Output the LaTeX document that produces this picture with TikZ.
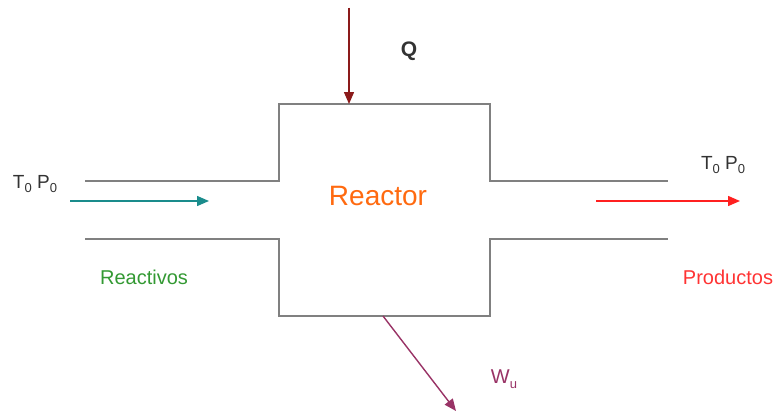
\documentclass[tikz,border=0pt]{standalone}
\usepackage{fontspec}
\setmainfont{Liberation Sans}
\usetikzlibrary{arrows.meta}
\definecolor{wallgray}{HTML}{808080}
\definecolor{qred}{HTML}{8B1A1A}
\definecolor{inteal}{HTML}{1A8C8C}
\definecolor{outred}{HTML}{FF2020}
\definecolor{wpurple}{HTML}{993366}
\definecolor{reacgreen}{HTML}{339933}
\definecolor{prodred}{HTML}{FF3333}
\definecolor{reacorange}{HTML}{FF6A10}
\definecolor{txtgray}{HTML}{333333}
\newcommand{\lowsub}[1]{\raisebox{-0.25em}{\fontsize{13}{14}\selectfont #1}}
\tikzset{
  wall/.style={draw=wallgray, line width=1.6pt},
  flow/.style={line width=1.4pt, -{Triangle[length=12pt,width=10pt]}},
  lbl/.style={inner sep=0pt, font=\fontsize{20}{24}\selectfont},
}
\begin{document}
\begin{tikzpicture}[x=1pt,y=-1pt]
\useasboundingbox (0,0) rectangle (775,412);
% reactor body with pipes
\draw[wall] (85,181) -- (279,181) -- (279,104) -- (490,104) -- (490,181) -- (668,181);
\draw[wall] (85,239) -- (279,239) -- (279,316) -- (490,316) -- (490,239) -- (668,239);
% labels
\node[lbl, text=reacorange, font=\fontsize{28}{32}\selectfont] (reactor) at (378,196) {Reactor};
\node[lbl, text=txtgray, font=\bfseries\fontsize{21}{24}\selectfont] (q) at (409,51) {Q};
\node[lbl, text=txtgray, font=\fontsize{19}{22}\selectfont] (tpin) at (35,184) {T\lowsub{0} P\lowsub{0}};
\node[lbl, text=txtgray, font=\fontsize{19}{22}\selectfont] (tpout) at (723,165) {T\lowsub{0} P\lowsub{0}};
\node[lbl, text=reacgreen] (reactivos) at (144,277) {Reactivos};
\node[lbl, text=prodred] (productos) at (728,277) {Productos};
\node[lbl, text=wpurple] (wu) at (504,379) {W\lowsub{u}};
% arrow end points
\coordinate (qs) at (349,8);
\coordinate (qe) at (349,104);
\coordinate (ins) at (70,201);
\coordinate (ine) at (209,201);
\coordinate (outs) at (596,201);
\coordinate (oute) at (740,201);
\coordinate (ws) at (383,316);
\coordinate (we) at (456,411);
\draw[flow, draw=qred, fill=qred] (qs) -- (qe);
\draw[flow, draw=inteal, fill=inteal] (ins) -- (ine);
\draw[flow, draw=outred, fill=outred] (outs) -- (oute);
\draw[flow, draw=wpurple, fill=wpurple] (ws) -- (we);
\end{tikzpicture}
\end{document}
